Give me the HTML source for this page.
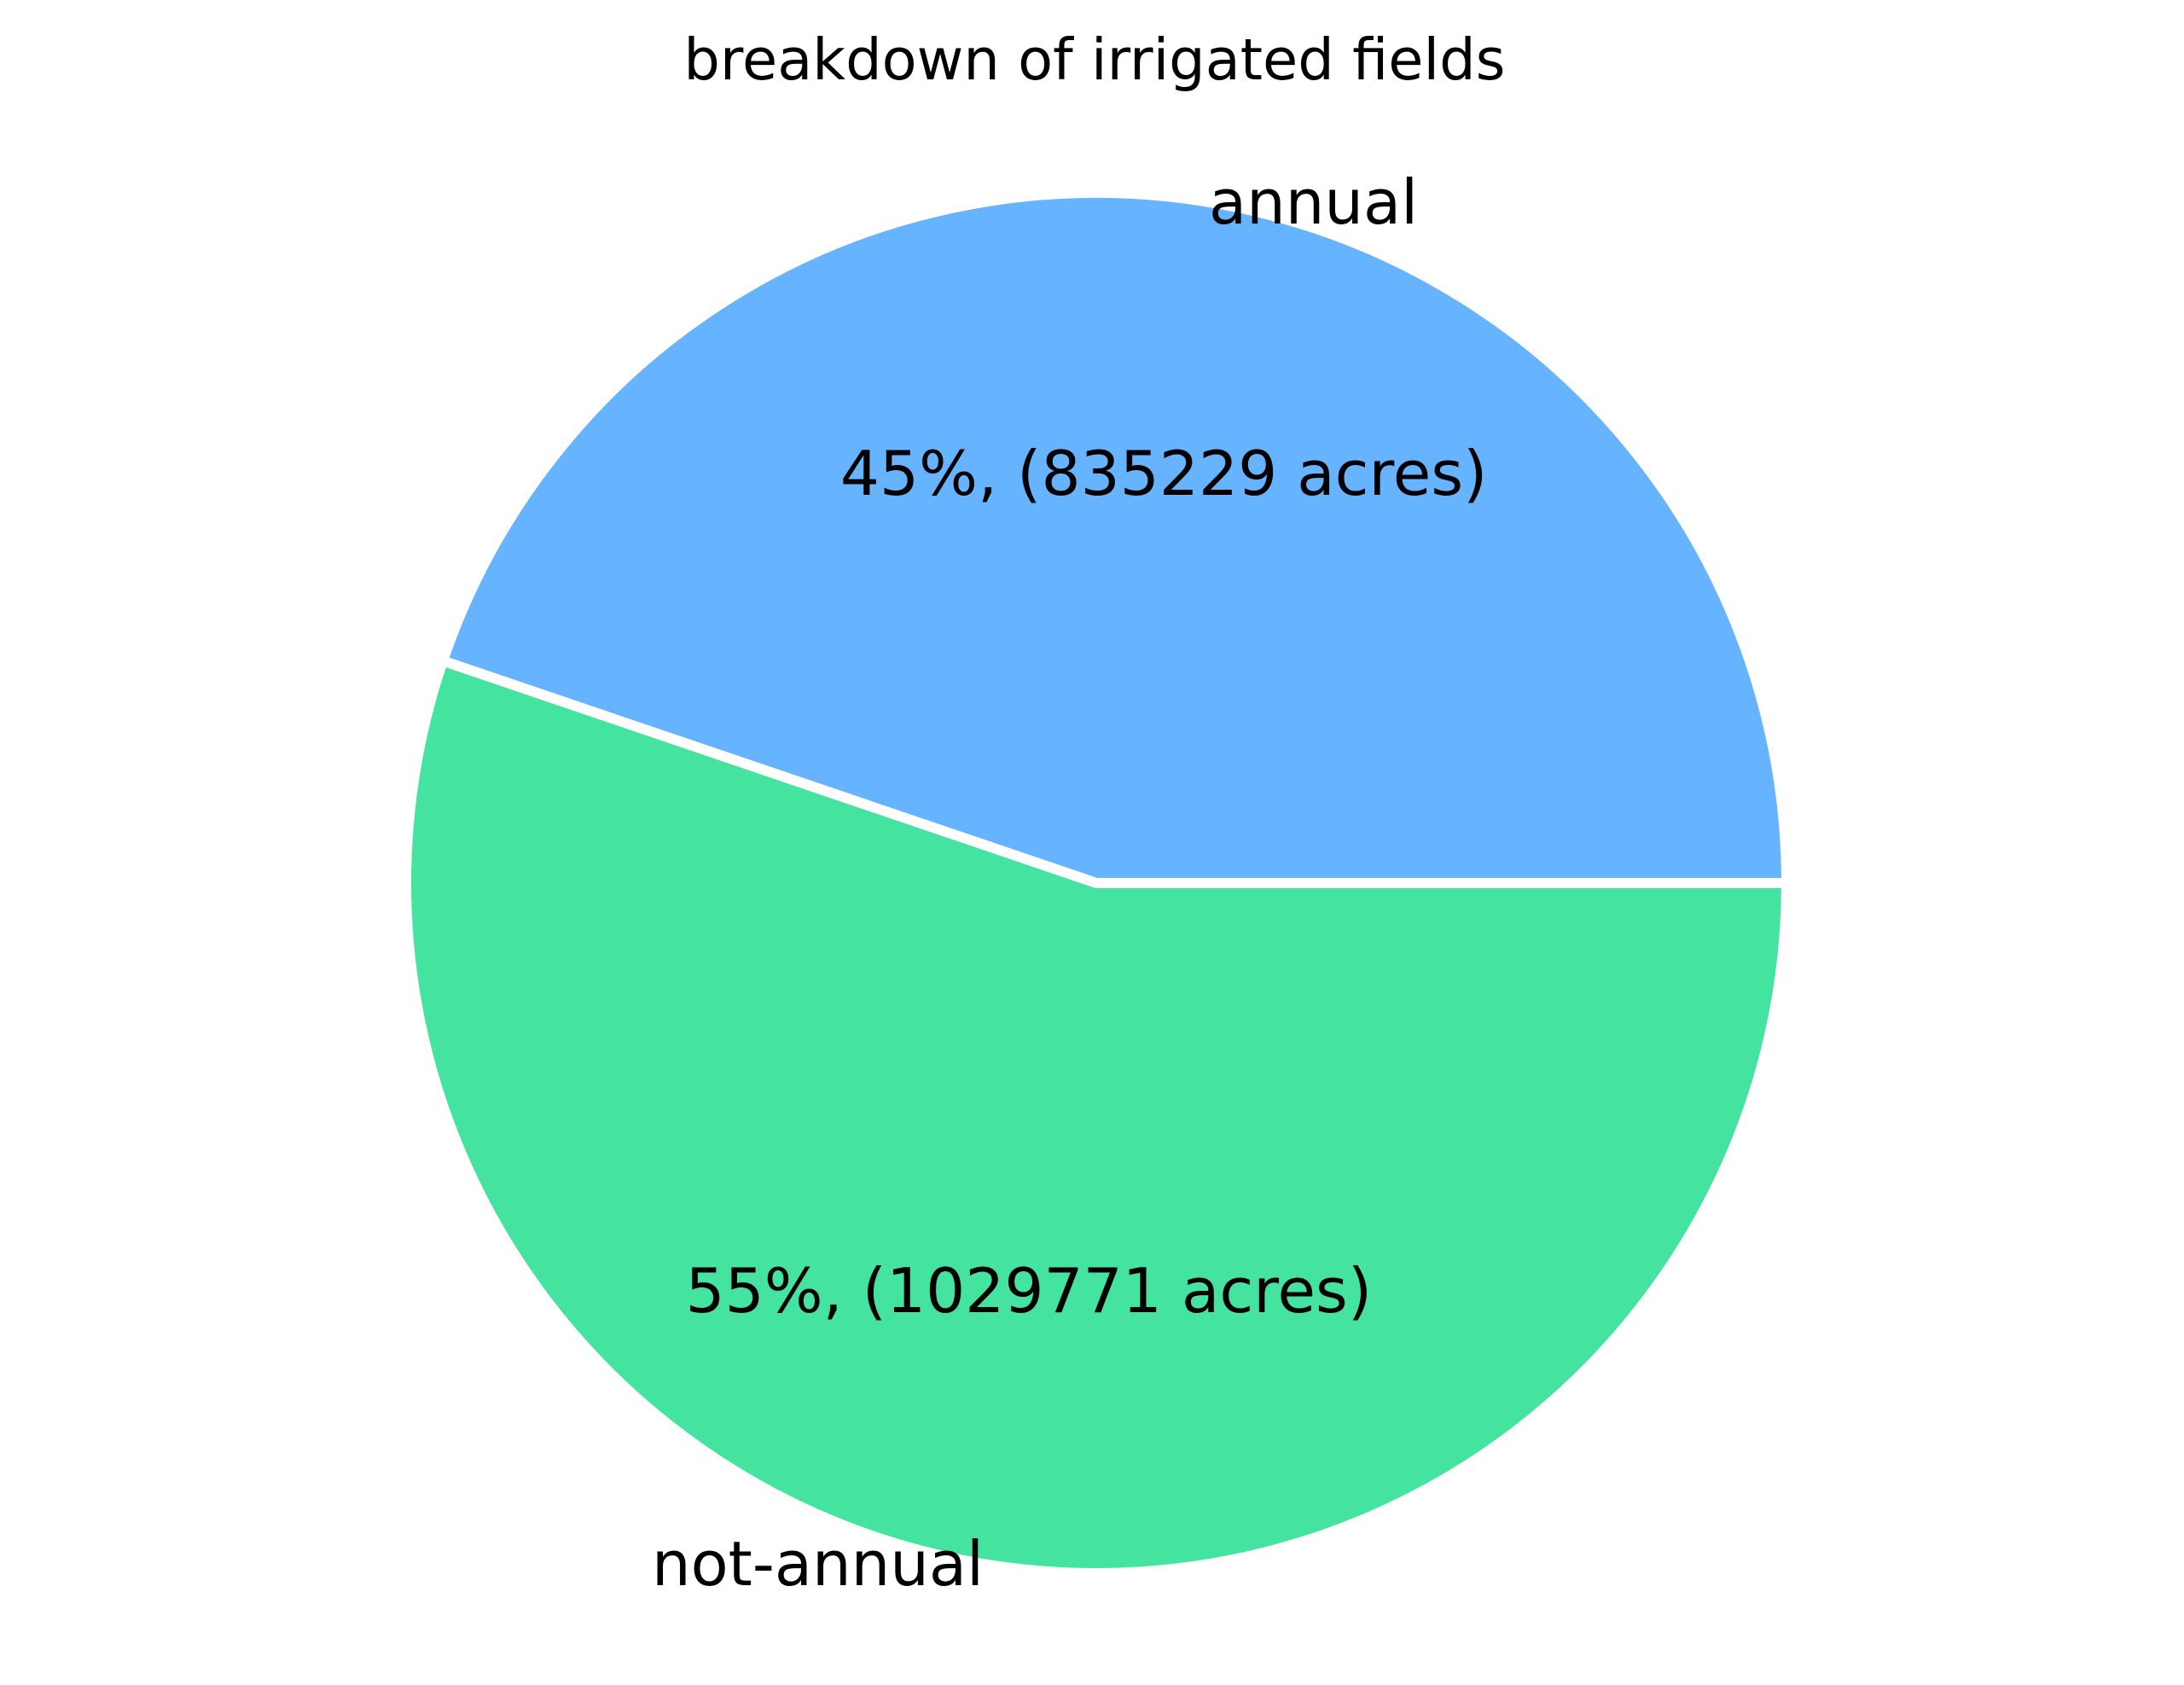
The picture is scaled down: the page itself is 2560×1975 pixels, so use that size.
<!DOCTYPE html>
<html><head><meta charset="utf-8"><style>html,body{margin:0;padding:0;background:#fff}svg{display:block}</style></head>
<body>
<svg id="chart" width="2560" height="1975" viewBox="0 0 2560 1975" xmlns="http://www.w3.org/2000/svg" font-family="DejaVu Sans, Liberation Sans, sans-serif">
<text x="1283" y="70" font-size="67" text-anchor="middle" dominant-baseline="central">breakdown of irrigated fields</text>
<g id="slices"></g>
</svg>
<script>
const categories = ['annual', 'not-annual'];
const values = [835229, 1029771];
const colors = ['#66b3ff', '#44e3a0'];
const cx = 1285, cy = 1035, r = 809;
const ns = 'http://www.w3.org/2000/svg';
const g = document.getElementById('slices');
const total = values.reduce((a, b) => a + b, 0);
let start = 0;
values.forEach((v, i) => {
  const frac = v / total;
  const a0 = start * 2 * Math.PI, a1 = (start + frac) * 2 * Math.PI;
  const x0 = cx + r * Math.cos(a0), y0 = cy - r * Math.sin(a0);
  const x1 = cx + r * Math.cos(a1), y1 = cy - r * Math.sin(a1);
  const large = frac > 0.5 ? 1 : 0;
  const p = document.createElementNS(ns, 'path');
  p.setAttribute('d', `M${cx},${cy} L${x0},${y0} A${r},${r} 0 ${large} 0 ${x1},${y1} Z`);
  p.setAttribute('fill', colors[i]);
  p.setAttribute('stroke', '#fff');
  p.setAttribute('stroke-width', '12');
  p.setAttribute('stroke-linejoin', 'round');
  
  
  g.appendChild(p);
  const mid = (a0 + a1) / 2;
  const lx = cx + r * 1.0 * Math.cos(mid), ly = cy - r * 1.0 * Math.sin(mid);
  const t = document.createElementNS(ns, 'text');
  t.setAttribute('x', lx); t.setAttribute('y', ly);
  t.setAttribute('font-size', '72');
  t.setAttribute('dominant-baseline', 'central');
  t.setAttribute('text-anchor', Math.cos(mid) > 0 ? 'start' : 'end');
  t.textContent = categories[i];
  
  
  g.appendChild(t);
  const px = cx + r * 0.6 * Math.cos(mid), py = cy - r * 0.6 * Math.sin(mid);
  const pt = document.createElementNS(ns, 'text');
  pt.setAttribute('x', px); pt.setAttribute('y', py);
  pt.setAttribute('font-size', '72.5');
  pt.setAttribute('dominant-baseline', 'central');
  pt.setAttribute('text-anchor', 'middle');
  pt.textContent = Math.round(frac * 100) + '%, (' + v + ' acres)';
  
  
  g.appendChild(pt);
  start += frac;
});
</script>
</body></html>
